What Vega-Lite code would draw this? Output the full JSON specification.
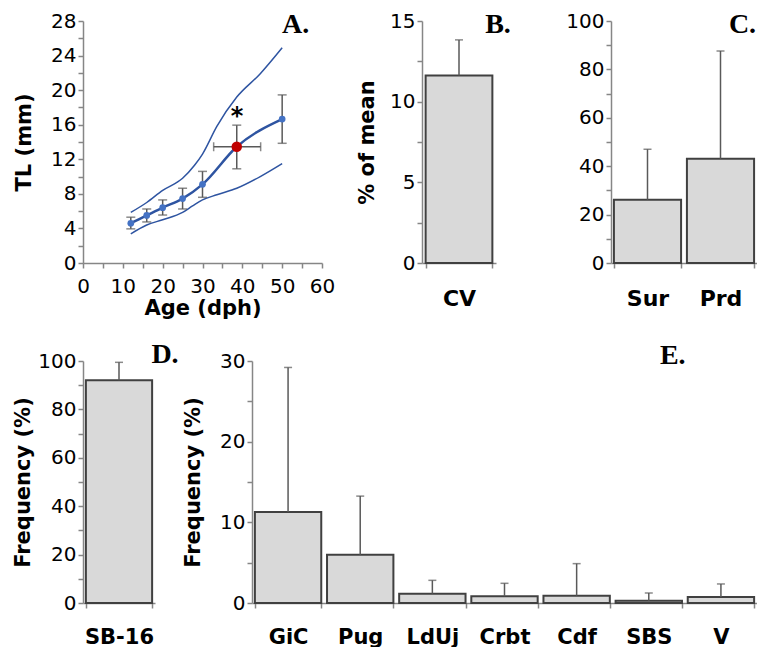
{
  "$schema": "https://vega.github.io/schema/vega-lite/v6.json",
  "background": "white",
  "padding": {"left": 12, "top": 10, "right": 0, "bottom": 0},
  "autosize": {"type": "pad"},
  "config": {
    "view": {"stroke": null},
    "axis": {
      "grid": false,
      "domainColor": "#868686", "domainWidth": 1.5,
      "tickColor": "#868686", "tickWidth": 1.5, "tickSize": 5,
      "labelFont": "DejaVu Sans", "labelFontSize": 20, "labelColor": "#000000",
      "labelOverlap": false, "labelFlush": false,
      "titleFont": "DejaVu Sans", "titleFontSize": 21, "titleFontWeight": "bold", "titleColor": "#000000"
    },
    "axisY": {"labelPadding": 2, "titlePadding": 10},
    "axisBand": {"tickBand": "extent", "labelAngle": 0, "labelFontWeight": "bold", "labelFontSize": 22, "labelPadding": 20, "title": null}
  },
  "spacing": 22,
  "vconcat": [
    {
      "bounds": "flush",
      "spacing": 100,
      "hconcat": [
        {
          "width": 239, "height": 242,
          "layer": [
            {
              "data": {"values": [
                {"curve": "upper", "age": 12, "tl": 5.85}, {"curve": "upper", "age": 16, "tl": 7.0}, {"curve": "upper", "age": 20, "tl": 8.4},
                {"curve": "upper", "age": 25, "tl": 9.8}, {"curve": "upper", "age": 28, "tl": 11.3}, {"curve": "upper", "age": 30, "tl": 12.6},
                {"curve": "upper", "age": 33.6, "tl": 15.8}, {"curve": "upper", "age": 38.6, "tl": 19.2}, {"curve": "upper", "age": 44.5, "tl": 21.9},
                {"curve": "upper", "age": 50, "tl": 24.9},
                {"curve": "lower", "age": 12, "tl": 3.38}, {"curve": "lower", "age": 16, "tl": 4.4}, {"curve": "lower", "age": 20, "tl": 5.0},
                {"curve": "lower", "age": 25, "tl": 5.85}, {"curve": "lower", "age": 27.5, "tl": 6.6}, {"curve": "lower", "age": 30, "tl": 7.3},
                {"curve": "lower", "age": 33.6, "tl": 7.9}, {"curve": "lower", "age": 38.6, "tl": 8.65}, {"curve": "lower", "age": 44.5, "tl": 10.0},
                {"curve": "lower", "age": 50, "tl": 11.5}
              ]},
              "mark": {"type": "line", "interpolate": "monotone", "color": "#2E54A1", "strokeWidth": 1.5},
              "encoding": {
                "x": {"field": "age", "type": "quantitative", "scale": {"domain": [0, 60], "nice": false},
                  "axis": {"values": [0, 5, 10, 15, 20, 25, 30, 35, 40, 45, 50, 55, 60], "tickCount": 100, "format": "d", "labelExpr": "datum.value % 10 == 0 ? datum.label : ''", "title": "Age (dph)", "labelPadding": 8, "titlePadding": 1}},
                "y": {"field": "tl", "type": "quantitative", "scale": {"domain": [0, 28], "nice": false},
                  "axis": {"values": [0, 2, 4, 6, 8, 10, 12, 14, 16, 18, 20, 22, 24, 26, 28], "tickCount": 100, "format": "d", "labelExpr": "datum.value % 4 == 0 ? datum.label : ''", "title": "TL (mm)", "titlePadding": 16}},
                "detail": {"field": "curve"}
              }
            },
            {
              "data": {"name": "pts"},
              "mark": {"type": "line", "interpolate": "monotone", "color": "#2E54A1", "strokeWidth": 2.5},
              "encoding": {"x": {"field": "age", "type": "quantitative"}, "y": {"field": "tl", "type": "quantitative"}}
            },
            {
              "data": {"name": "pts"},
              "mark": {"type": "rule", "color": "#595959", "strokeWidth": 1.5},
              "encoding": {"x": {"field": "age", "type": "quantitative"}, "y": {"field": "lo", "type": "quantitative"}, "y2": {"field": "hi"}}
            },
            {
              "data": {"name": "pts"},
              "mark": {"type": "tick", "orient": "horizontal", "size": 9, "thickness": 1.5, "color": "#595959"},
              "encoding": {"x": {"field": "age", "type": "quantitative"}, "y": {"field": "hi", "type": "quantitative"}}
            },
            {
              "data": {"name": "pts"},
              "mark": {"type": "tick", "orient": "horizontal", "size": 9, "thickness": 1.5, "color": "#595959"},
              "encoding": {"x": {"field": "age", "type": "quantitative"}, "y": {"field": "lo", "type": "quantitative"}}
            },
            {
              "data": {"name": "pts"},
              "transform": [{"filter": "isValid(datum.xlo)"}],
              "mark": {"type": "rule", "color": "#595959", "strokeWidth": 1.5},
              "encoding": {"x": {"field": "xlo", "type": "quantitative"}, "x2": {"field": "xhi"}, "y": {"field": "tl", "type": "quantitative"}}
            },
            {
              "data": {"name": "pts"},
              "transform": [{"filter": "isValid(datum.xlo)"}],
              "mark": {"type": "tick", "orient": "vertical", "size": 9, "thickness": 1.5, "color": "#595959"},
              "encoding": {"x": {"field": "xlo", "type": "quantitative"}, "y": {"field": "tl", "type": "quantitative"}}
            },
            {
              "data": {"name": "pts"},
              "transform": [{"filter": "isValid(datum.xlo)"}],
              "mark": {"type": "tick", "orient": "vertical", "size": 9, "thickness": 1.5, "color": "#595959"},
              "encoding": {"x": {"field": "xhi", "type": "quantitative"}, "y": {"field": "tl", "type": "quantitative"}}
            },
            {
              "data": {"name": "pts"},
              "mark": {"type": "point", "shape": "circle", "filled": true, "opacity": 1},
              "encoding": {
                "x": {"field": "age", "type": "quantitative"}, "y": {"field": "tl", "type": "quantitative"},
                "color": {"field": "grp", "type": "nominal", "scale": {"domain": ["normal", "special"], "range": ["#4472C4", "#C00000"]}, "legend": null},
                "size": {"field": "grp", "type": "nominal", "scale": {"domain": ["normal", "special"], "range": [45, 110]}, "legend": null}
              }
            },
            {
              "data": {"values": [{"age": 38.7, "tl": 16.1, "t": "*"}]},
              "mark": {"type": "text", "font": "DejaVu Sans", "fontSize": 24, "fontWeight": "bold", "baseline": "alphabetic", "align": "center", "color": "#000000"},
              "encoding": {"x": {"field": "age", "type": "quantitative"}, "y": {"field": "tl", "type": "quantitative"}, "text": {"field": "t"}}
            },
            {
              "data": {"values": [{"age": 53.4, "tl": 26.6, "t": "A."}]},
              "mark": {"type": "text", "font": "Liberation Serif", "fontSize": 28, "fontWeight": "bold", "baseline": "alphabetic", "align": "center", "color": "#000000"},
              "encoding": {"x": {"field": "age", "type": "quantitative"}, "y": {"field": "tl", "type": "quantitative"}, "text": {"field": "t"}}
            }
          ]
        },
        {
          "bounds": "flush",
          "spacing": 115,
          "hconcat": [
            {
              "width": 74, "height": 242,
              "data": {"values": [{"cat": "CV", "v": 11.62, "hi": 13.83}]},
              "layer": [
                {
                  "mark": {"type": "bar", "fill": "#D9D9D9", "stroke": "#404040", "strokeWidth": 2},
                  "encoding": {
                    "x": {"field": "cat", "type": "nominal", "scale": {"paddingInner": 0.08, "paddingOuter": 0.05}},
                    "y": {"field": "v", "type": "quantitative", "scale": {"domain": [0, 15], "nice": false},
                      "axis": {"values": [0, 2.5, 5, 7.5, 10, 12.5, 15], "tickCount": 100, "format": "d", "labelExpr": "datum.value % 5 == 0 ? datum.label : ''", "title": "% of mean", "titlePadding": 12}}
                  }
                },
                {
                  "mark": {"type": "rule", "color": "#595959", "strokeWidth": 1.5},
                  "encoding": {"x": {"field": "cat", "type": "nominal"}, "y": {"field": "v", "type": "quantitative"}, "y2": {"field": "hi"}}
                },
                {
                  "mark": {"type": "tick", "orient": "horizontal", "size": 8, "thickness": 1.5, "color": "#595959"},
                  "encoding": {"x": {"field": "cat", "type": "nominal"}, "y": {"field": "hi", "type": "quantitative"}}
                },
                {
                  "data": {"values": [{"cat": "CV", "v": 14.26, "t": "B."}]},
                  "mark": {"type": "text", "font": "Liberation Serif", "fontSize": 28, "fontWeight": "bold", "baseline": "alphabetic", "align": "center", "dx": 39, "color": "#000000"},
                  "encoding": {"x": {"field": "cat", "type": "nominal"}, "y": {"field": "v", "type": "quantitative"}, "text": {"field": "t"}}
                }
              ]
            },
            {
              "width": 146, "height": 242,
              "data": {"values": [{"cat": "Sur", "v": 26.1, "hi": 47.0}, {"cat": "Prd", "v": 43.1, "hi": 87.6}]},
              "layer": [
                {
                  "mark": {"type": "bar", "fill": "#D9D9D9", "stroke": "#404040", "strokeWidth": 2},
                  "encoding": {
                    "x": {"field": "cat", "type": "nominal", "sort": ["Sur", "Prd"], "scale": {"paddingInner": 0.08, "paddingOuter": 0.04}},
                    "y": {"field": "v", "type": "quantitative", "scale": {"domain": [0, 100], "nice": false},
                      "axis": {"values": [0, 10, 20, 30, 40, 50, 60, 70, 80, 90, 100], "tickCount": 100, "format": "d", "labelExpr": "datum.value % 20 == 0 ? datum.label : ''", "title": null}}
                  }
                },
                {
                  "mark": {"type": "rule", "color": "#595959", "strokeWidth": 1.5},
                  "encoding": {"x": {"field": "cat", "type": "nominal", "sort": ["Sur", "Prd"]}, "y": {"field": "v", "type": "quantitative"}, "y2": {"field": "hi"}}
                },
                {
                  "mark": {"type": "tick", "orient": "horizontal", "size": 8, "thickness": 1.5, "color": "#595959"},
                  "encoding": {"x": {"field": "cat", "type": "nominal", "sort": ["Sur", "Prd"]}, "y": {"field": "hi", "type": "quantitative"}}
                },
                {
                  "data": {"values": [{"cat": "Prd", "v": 95.2, "t": "C."}]},
                  "mark": {"type": "text", "font": "Liberation Serif", "fontSize": 28, "fontWeight": "bold", "baseline": "alphabetic", "align": "center", "dx": 22, "color": "#000000"},
                  "encoding": {"x": {"field": "cat", "type": "nominal", "sort": ["Sur", "Prd"]}, "y": {"field": "v", "type": "quantitative"}, "text": {"field": "t"}}
                }
              ]
            }
          ]
        }
      ]
    },
    {
      "bounds": "flush",
      "spacing": 97,
      "hconcat": [
        {
          "width": 72, "height": 242,
          "data": {"values": [{"cat": "SB-16", "v": 92.0, "hi": 99.45}]},
          "layer": [
            {
              "mark": {"type": "bar", "fill": "#D9D9D9", "stroke": "#404040", "strokeWidth": 2},
              "encoding": {
                "x": {"field": "cat", "type": "nominal", "scale": {"paddingInner": 0.08, "paddingOuter": 0.04}, "axis": {"labelFontSize": 21, "labelPadding": 18}},
                "y": {"field": "v", "type": "quantitative", "scale": {"domain": [0, 100], "nice": false},
                  "axis": {"values": [0, 10, 20, 30, 40, 50, 60, 70, 80, 90, 100], "tickCount": 100, "format": "d", "labelExpr": "datum.value % 20 == 0 ? datum.label : ''", "title": "Frequency (%)", "titlePadding": 4}}
              }
            },
            {
              "mark": {"type": "rule", "color": "#595959", "strokeWidth": 1.5},
              "encoding": {"x": {"field": "cat", "type": "nominal"}, "y": {"field": "v", "type": "quantitative"}, "y2": {"field": "hi"}}
            },
            {
              "mark": {"type": "tick", "orient": "horizontal", "size": 8, "thickness": 1.5, "color": "#595959"},
              "encoding": {"x": {"field": "cat", "type": "nominal"}, "y": {"field": "hi", "type": "quantitative"}}
            },
            {
              "data": {"values": [{"cat": "SB-16", "v": 99.2, "t": "D."}]},
              "mark": {"type": "text", "font": "Liberation Serif", "fontSize": 28, "fontWeight": "bold", "baseline": "alphabetic", "align": "center", "dx": 46, "color": "#000000"},
              "encoding": {"x": {"field": "cat", "type": "nominal"}, "y": {"field": "v", "type": "quantitative"}, "text": {"field": "t"}}
            }
          ]
        },
        {
          "width": 505, "height": 242,
          "data": {"values": [
            {"cat": "GiC", "v": 11.27, "hi": 29.2},
            {"cat": "Pug", "v": 5.98, "hi": 13.25},
            {"cat": "LdUj", "v": 1.16, "hi": 2.81},
            {"cat": "Crbt", "v": 0.83, "hi": 2.44},
            {"cat": "Cdf", "v": 0.91, "hi": 4.88},
            {"cat": "SBS", "v": 0.29, "hi": 1.24},
            {"cat": "V", "v": 0.75, "hi": 2.36}
          ]},
          "layer": [
            {
              "mark": {"type": "bar", "fill": "#D9D9D9", "stroke": "#404040", "strokeWidth": 2},
              "encoding": {
                "x": {"field": "cat", "type": "nominal", "sort": null, "scale": {"paddingInner": 0.08, "paddingOuter": 0.04}, "axis": {"labelFontSize": 21, "labelPadding": 18}},
                "y": {"field": "v", "type": "quantitative", "scale": {"domain": [0, 30], "nice": false},
                  "axis": {"values": [0, 5, 10, 15, 20, 25, 30], "tickCount": 100, "format": "d", "labelExpr": "datum.value % 10 == 0 ? datum.label : ''", "title": "Frequency (%)", "titlePadding": 16}}
              }
            },
            {
              "mark": {"type": "rule", "color": "#595959", "strokeWidth": 1.5},
              "encoding": {"x": {"field": "cat", "type": "nominal", "sort": null}, "y": {"field": "v", "type": "quantitative"}, "y2": {"field": "hi"}}
            },
            {
              "mark": {"type": "tick", "orient": "horizontal", "size": 8, "thickness": 1.5, "color": "#595959"},
              "encoding": {"x": {"field": "cat", "type": "nominal", "sort": null}, "y": {"field": "hi", "type": "quantitative"}}
            },
            {
              "data": {"values": [{"cat": "SBS", "v": 29.6, "t": "E."}]},
              "mark": {"type": "text", "font": "Liberation Serif", "fontSize": 28, "fontWeight": "bold", "baseline": "alphabetic", "align": "center", "dx": 24, "color": "#000000"},
              "encoding": {"x": {"field": "cat", "type": "nominal", "sort": null}, "y": {"field": "v", "type": "quantitative"}, "text": {"field": "t"}}
            }
          ]
        }
      ]
    }
  ],
  "datasets": {
    "pts": [
      {"age": 12, "tl": 4.6, "lo": 3.95, "hi": 5.3, "grp": "normal"},
      {"age": 16, "tl": 5.5, "lo": 4.75, "hi": 6.25, "grp": "normal"},
      {"age": 20, "tl": 6.4, "lo": 5.55, "hi": 7.3, "grp": "normal"},
      {"age": 25, "tl": 7.45, "lo": 6.25, "hi": 8.65, "grp": "normal"},
      {"age": 30, "tl": 9.1, "lo": 7.6, "hi": 10.6, "grp": "normal"},
      {"age": 38.6, "tl": 13.45, "lo": 10.9, "hi": 15.95, "xlo": 32.8, "xhi": 44.6, "grp": "special"},
      {"age": 50, "tl": 16.65, "lo": 13.85, "hi": 19.45, "grp": "normal"}
    ]
  }
}
